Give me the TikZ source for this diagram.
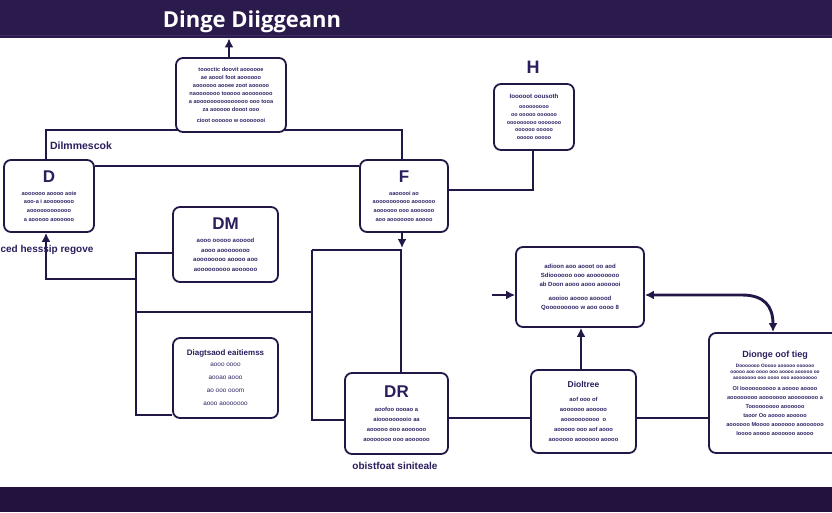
\documentclass[tikz,border=0pt]{standalone}
\usepackage{fontspec}
\setmainfont{Liberation Sans}
\newfontfamily\ttlfont{Open Sans}
\usetikzlibrary{arrows.meta}
\definecolor{bannerc}{HTML}{2B1B4D}
\definecolor{bannerd}{HTML}{24123E}
\definecolor{stripec}{HTML}{3A2A6A}
\definecolor{linec}{HTML}{231747}
\definecolor{txtc}{HTML}{2C1D5C}
\definecolor{bodyc}{HTML}{2E2466}
\pgfdeclarelayer{back}
\pgfdeclarelayer{bg}
\pgfsetlayers{back,bg,main}
\begin{document}
\begin{tikzpicture}[x=1pt,y=-1pt,
  card/.style={draw=linec, line width=1.8pt, rounded corners=7pt, fill=white,
    align=center, inner sep=0pt, text=bodyc},
  conn/.style={draw=linec, line width=2.9pt},
  tip/.style={-{Latex[length=9pt,width=9pt]}},
  rtip/.style={{Latex[length=9pt,width=9pt]}-},
  btip/.style={{Latex[length=9pt,width=9pt]}-{Latex[length=9pt,width=9pt]}},
  lbl/.style={font=\fontsize{10}{11}\selectfont\bfseries, text=txtc, inner sep=0pt}]
\useasboundingbox (0,0) rectangle (832,512);
\begin{pgfonlayer}{back}
\fill[white] (0,0) rectangle (832,512);
\end{pgfonlayer}

% banners
\node[fill=bannerc, minimum width=832pt, minimum height=38pt, inner sep=0pt, anchor=north west] (banner) at (0,0) {};
\draw[stripec, line width=1.2pt] ([yshift=3pt]banner.south west) -- ([yshift=3pt]banner.south east);
\node[fill=bannerd, minimum width=832pt, minimum height=25pt, inner sep=0pt, anchor=south west] (footer) at (0,512) {};
\node[text=white, font=\ttlfont\fontsize{22}{22}\selectfont\bfseries, inner sep=0pt] (title) at (252,22) {Dinge Diiggeann};

% boxes
\node[card, minimum width=110pt, minimum height=74pt, font=\fontsize{5.6}{8}\selectfont\bfseries] (top) at (231,95)
 {toooctic doovit aoooooe\\ ae aoool foot aoooooo\\ aoooooo aooee zoot aooooo\\ naooooooo tooooo aoooooooo\\ a aooooooooooooooo ooo tooa\\ za aooooo dooot ooo\\[3pt] cioot oooooo w oooooooi};

\node[card, minimum width=80pt, minimum height=66pt, font=\fontsize{5.4}{7.7}\selectfont\bfseries] (H) at (534,117)
 {{\fontsize{6.2}{7}\selectfont Iooooot oousoth}\\[2pt] ooooooooo\\ oo ooooo oooooo\\ ooooooooo ooooooo\\ oooooo ooooo\\ ooooo ooooo};
\node[font=\fontsize{18}{18}\selectfont\bfseries, text=txtc, inner sep=0pt] (Hl) at (533,67) {H};

\node[card, minimum width=90pt, minimum height=72pt, font=\fontsize{5.6}{8.7}\selectfont\bfseries] (D) at (49,196)
 {{\fontsize{17}{17}\selectfont\bfseries\color{txtc} D}\\[4pt] aoooooo aoooo aoie\\ aoo-a i aoooooooo\\ aoooooooooooo\\ a aooooo aoooooo};

\node[card, minimum width=88pt, minimum height=72pt, font=\fontsize{5.6}{8.7}\selectfont\bfseries] (F) at (404,196)
 {{\fontsize{17}{17}\selectfont\bfseries\color{txtc} F}\\[4pt] aaooooi ao\\ aoooooooooo aoooooo\\ aoooooo ooo aoooooo\\ aoo aooooooo aoooo};

\node[card, minimum width=105pt, minimum height=75pt, font=\fontsize{6}{9.5}\selectfont\bfseries] (DM) at (225.5,244.5)
 {{\fontsize{17}{17}\selectfont\bfseries\color{txtc} DM}\\[4pt] aooo ooooo aooood\\ aooo aoooooooo\\ aoooooooo aoooo aoo\\ aooooooooo aoooooo};

\node[card, minimum width=128pt, minimum height=80pt, font=\fontsize{6}{9}\selectfont\bfseries] (RM) at (580,287)
 {adioon aoo aooot oo aod\\ Sdioooooo ooo aoooooooo\\ ab Doon aooo aooo aoooooi\\[5pt] aooioo aoooo aooood\\ Qooooooooo w aoo oooo 8};

\node[card, minimum width=105pt, minimum height=80pt, font=\fontsize{6.4}{13}\selectfont] (Diag) at (225.5,378)
 {{\fontsize{8}{9}\selectfont\bfseries\color{txtc} Diagtsaod eaitiemss}\\[-2pt] aooo oooo\\ aooao aooo\\ ao ooo ooom\\ aooo aooooooo};

\node[card, minimum width=103pt, minimum height=81pt, font=\fontsize{5.8}{10}\selectfont\bfseries] (DR) at (396.5,413.5)
 {{\fontsize{17}{17}\selectfont\bfseries\color{txtc} DR}\\[4pt] aoofoo oooao a\\ aiooooooooio aa\\ aooooo ooo aoooooo\\ aooooooo ooo aoooooo};
\node[lbl] (DRl) at (395,466) {obistfoat siniteale};

\node[card, minimum width=105pt, minimum height=83pt, font=\fontsize{5.8}{10}\selectfont\bfseries] (Diol) at (583.5,411.5)
 {{\fontsize{8.5}{9}\selectfont\bfseries\color{txtc} Dioltree}\\[4pt] aof ooo of\\ aoooooo aooooo\\ aoooooooooo\ \ o\\ aooooo ooo aof aooo\\ aoooooo aoooooo aoooo};

\node[card, minimum width=132pt, minimum height=120pt, font=\fontsize{5.6}{9}\selectfont\bfseries] (RB) at (775,393)
 {{\fontsize{9}{9}\selectfont\bfseries\color{txtc} Dionge oof tieg}\\[1pt]
  {\fontsize{4.8}{5}\selectfont Dooooooo Ooooo aooooo oooooo}\\[-3pt]
  {\fontsize{4.8}{5}\selectfont ooooo aoo oooo ooo aoooo aooooo oo}\\[-3pt]
  {\fontsize{4.8}{5}\selectfont aooooooo ooo oooo ooo aoooooooo}\\[2pt]
  Ol Ioooooooooo a aoooo aoooo\\ aoooooooo aooooooo aoooooooo a\\ Tooooooooo aoooooo\\ taoor Oo aoooo aooooo\\ aoooooo Moooo aoooooo aooooooo\\ Ioooo aoooo aoooooo aoooo};

% labels
\node[lbl, font=\fontsize{10.5}{11}\selectfont\bfseries] (Dlab) at (81,146) {Dilmmescok};
\node[lbl] (Dbot) at (47,250) {ced hesssip regove};

% connectors
\begin{pgfonlayer}{bg}
\coordinate (j1) at (46,130);
\coordinate (j2) at (402,130);
\draw[conn] (D.north -| j1) -- (j1) -- (j2) -- (F.north -| j2);
\coordinate (h1) at (0,166);
\draw[conn] (D.east |- h1) -- (F.west |- h1);
\coordinate (h2) at (533,190);
\draw[conn] (F.east |- h2) -- (h2) -- (H.south -| h2);
\coordinate (t1) at (229,0);
\draw[conn,tip] (top.north -| t1) -- (banner.south -| t1);
\coordinate (a3) at (402,248);
\draw[conn,tip] (F.south -| a3) -- (a3);
\coordinate (j3) at (401,250);
\coordinate (j4) at (312,250);
\coordinate (h3) at (0,420);
\draw[conn] (j4) -- (j3) -- (DR.north -| j3);
\draw[conn] (j4) |- (DR.west |- h3);
\coordinate (k1) at (46,279);
\coordinate (k2) at (136,279);
\draw[conn,rtip] (D.south -| k1) -- (k1) -- (k2);
\coordinate (v1) at (136,253);
\coordinate (v2) at (136,415);
\draw[conn] (DM.west |- v1) -- (v1) -- (v2) -- (Diag.west |- v2);
\coordinate (m1) at (136,312);
\draw[conn] (m1) -- (m1 -| j4);
\coordinate (h4) at (0,418);
\draw[conn] (DR.east |- h4) -- (Diol.west |- h4);
\draw[conn] (Diol.east |- h4) -- (RB.west |- h4);
\coordinate (v5) at (581,0);
\draw[conn,tip] (Diol.north -| v5) -- (RM.south -| v5);
\coordinate (h5) at (0,295);
\coordinate (s1) at (492,295);
\draw[conn,tip] (s1) -- (RM.west |- h5);
\coordinate (c1) at (742,295);
\coordinate (c2) at (773,0);
\draw[conn,btip] (RM.east |- h5) -- (c1) .. controls (764,295) and (773,306) .. (RB.north -| c2);
\end{pgfonlayer}
\end{tikzpicture}
\end{document}
